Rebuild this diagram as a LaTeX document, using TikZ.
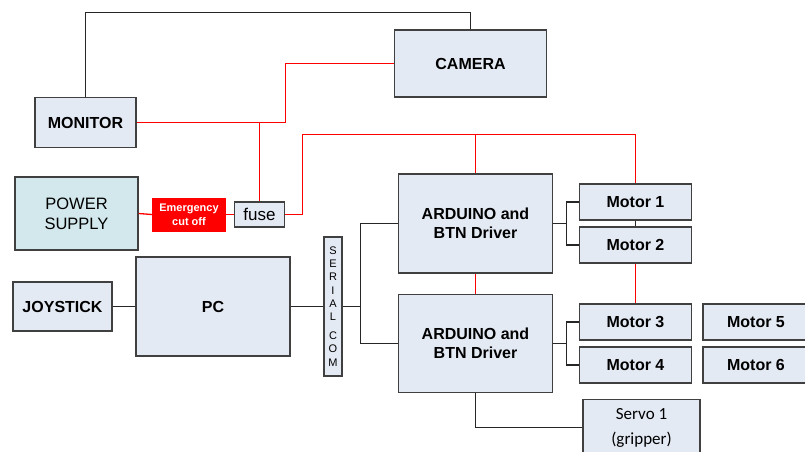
\documentclass[tikz,border=0pt]{standalone}
\usepackage{fontspec}
\setmainfont{Liberation Sans}
\newfontfamily\calfont{Carlito}
\definecolor{boxfill}{HTML}{E4EAF4}
\definecolor{psfill}{HTML}{D2E8EC}
\definecolor{boxline}{HTML}{404040}
\definecolor{wirered}{HTML}{FF0000}
\begin{document}
\begin{tikzpicture}[x=1pt,y=-1pt,
  box/.style={draw=boxline,line width=1.2pt,fill=boxfill,inner sep=0pt,align=center,
    font=\fontsize{16}{19}\selectfont\bfseries},
  wire/.style={draw=black!85,line width=1.1pt},
  pwire/.style={draw=wirered,line width=1.3pt}]
\useasboundingbox (0,0) rectangle (805,451);
\clip (0,0) rectangle (805,451);
% nodes
\node[box,minimum width=101pt,minimum height=50pt] (monitor) at (85.5,122.5) {MONITOR};
\node[box,minimum width=152pt,minimum height=67pt] (camera) at (470.5,63.5) {CAMERA};
\node[box,fill=psfill,minimum width=123pt,minimum height=73pt,font=\fontsize{16.5}{20}\selectfont] (power) at (76.5,213.5) {POWER\\SUPPLY};
\node[fill=wirered,text=white,inner sep=0pt,minimum width=74pt,minimum height=34pt,align=center,
  font=\fontsize{11}{14}\selectfont\bfseries] (emerg) at (189,214.5) {Emergency\\cut off};
\node[box,minimum width=50pt,minimum height=25pt,font=\fontsize{17}{20}\selectfont] (fuse) at (259.5,214.5) {fuse};
\node[box,minimum width=154pt,minimum height=99pt] (ard1) at (475.5,223.5) {ARDUINO and\\BTN Driver};
\node[box,minimum width=154pt,minimum height=98pt] (ard2) at (475.5,343.5) {ARDUINO and\\BTN Driver};
\node[box,minimum width=112pt,minimum height=36pt] (m1) at (635.5,202) {Motor 1};
\node[box,minimum width=112pt,minimum height=36pt] (m2) at (635.5,245) {Motor 2};
\node[box,minimum width=112pt,minimum height=36pt] (m3) at (635.5,322) {Motor 3};
\node[box,minimum width=112pt,minimum height=36pt] (m4) at (635.5,365) {Motor 4};
\node[box,minimum width=110pt,minimum height=36pt] (m5) at (758,322) {\hspace*{-4pt}Motor 5};
\node[box,minimum width=110pt,minimum height=36pt] (m6) at (758,365) {\hspace*{-4pt}Motor 6};
\node[box,minimum width=117pt,minimum height=56pt,anchor=north,font=\fontsize{17}{25}\selectfont\calfont] (servo) at (641.5,399) {Servo 1\\(gripper)};
\node[box,minimum width=18pt,minimum height=139pt,font=\fontsize{11}{13.2}\selectfont] (serial) at (333,306.5) {S\\E\\R\\I\\A\\L\\[6pt]C\\O\\M};
\node[box,minimum width=154pt,minimum height=99pt] (pc) at (213,306.5) {PC};
\node[box,minimum width=99pt,minimum height=49pt] (joy) at (62.5,306.5) {JOYSTICK};
% black wires
\draw[wire] (monitor.north) |- (470.5,12.5) -- (camera.north);
\draw[wire] (joy.east) -- (pc.west);
\draw[wire] (pc.east) -- (serial.west);
\coordinate (sj) at (360.5,306.5);
\draw[wire] (serial.east) -- (sj);
\draw[wire] (ard1.west) -| (sj) |- (ard2.west);
\coordinate (j1) at (566.5,223.5);
\draw[wire] (ard1.east) -- (j1);
\draw[wire] (m1.west) -| (j1) |- (m2.west);
\coordinate (j2) at (566.5,343.5);
\draw[wire] (ard2.east) -- (j2);
\draw[wire] (m3.west) -| (j2) |- (m4.west);
\draw[wire] (m1.south) -- (m2.north);
\draw[wire] (ard2.south) |- (servo.west |- 0,427.5);
% red wires
\coordinate (c1) at (285.5,63.5);
\coordinate (c2) at (285.5,122.5);
\draw[pwire] (camera.west) -- (c1) -- (c2) -- (monitor.east);
\draw[pwire] (fuse.north) -- (fuse.north |- c2);
\draw[pwire] (power.east) -- (emerg.west);
\draw[pwire] (emerg.east) -- (fuse.west);
\coordinate (r1) at (302.5,214.5);
\coordinate (r2) at (302.5,134.5);
\draw[pwire] (fuse.east) -- (r1) -- (r2) -| (m1.north);
\draw[pwire] (ard1.north) -- (ard1.north |- r2);
\draw[pwire] (ard1.south) -- (ard2.north);
\draw[pwire] (m2.south) -- (m3.north);
\end{tikzpicture}
\end{document}
